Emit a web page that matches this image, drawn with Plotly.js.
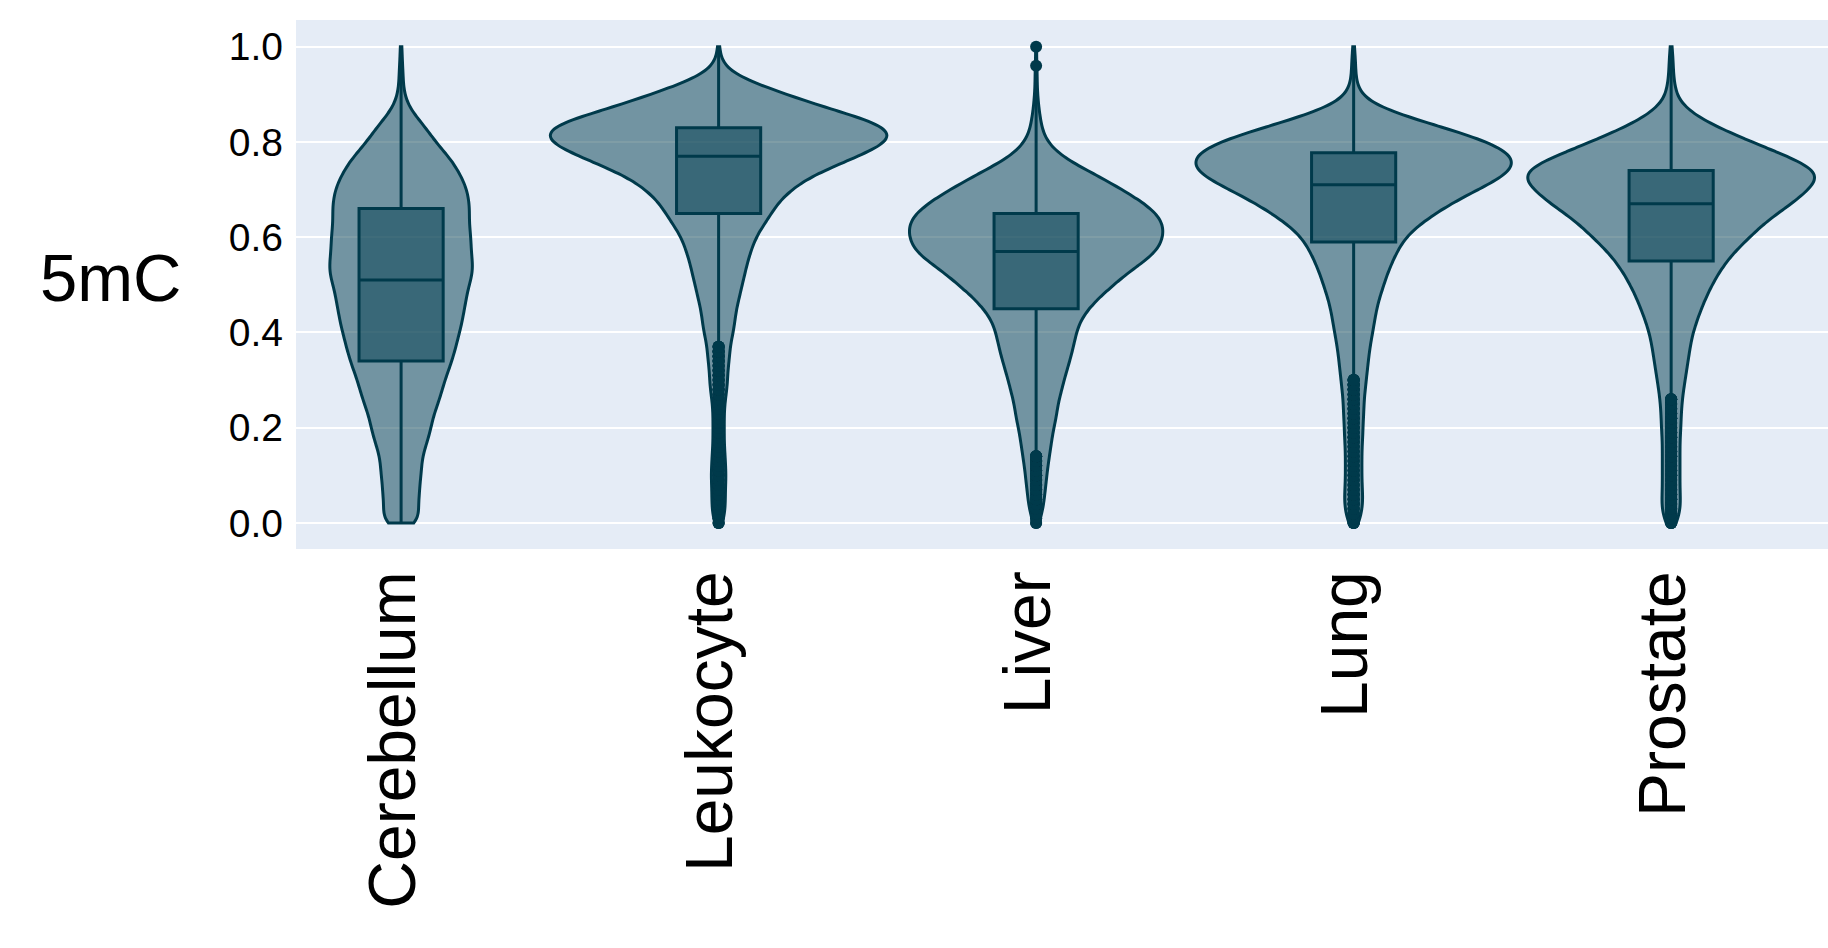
<!DOCTYPE html>
<html>
<head>
<meta charset="utf-8">
<script src="https://cdn.plot.ly/plotly-3.0.1.min.js"></script>
<style>
  html, body { margin: 0; padding: 0; background: #fff; }
  #chart { width: 1828px; height: 948px; }
</style>
</head>
<body>
<div id="chart"></div>
<script>
'use strict'

// 5mC level bins and how many CpG sites fall in each bin, per tissue
const bins = [0.00, 0.01, 0.02, 0.03, 0.04, 0.05, 0.06, 0.07, 0.08, 0.09,
              0.10, 0.11, 0.12, 0.13, 0.14, 0.15, 0.16, 0.17, 0.18, 0.19,
              0.20, 0.21, 0.22, 0.23, 0.24, 0.25, 0.26, 0.27, 0.28, 0.29,
              0.30, 0.31, 0.32, 0.33, 0.34, 0.35, 0.36, 0.37, 0.38, 0.39,
              0.40, 0.41, 0.42, 0.43, 0.44, 0.45, 0.46, 0.47, 0.48, 0.49,
              0.50, 0.51, 0.52, 0.53, 0.54, 0.55, 0.56, 0.57, 0.58, 0.59,
              0.60, 0.61, 0.62, 0.63, 0.64, 0.65, 0.66, 0.67, 0.68, 0.69,
              0.70, 0.71, 0.72, 0.73, 0.74, 0.75, 0.76, 0.77, 0.78, 0.79,
              0.80, 0.81, 0.82, 0.83, 0.84, 0.85, 0.86, 0.87, 0.88, 0.89,
              0.90, 0.91, 0.92, 0.93, 0.94, 0.95, 0.96, 0.97, 0.98, 0.99,
              1.00];

const tissues = ['Cerebellum', 'Leukocyte', 'Liver', 'Lung', 'Prostate'];

const cerebellum = [13, 10, 8, 8, 8, 9, 9, 9, 9, 9,
                    10, 10, 10, 10, 10, 11, 12, 13, 13, 14,
                    15, 15, 15, 16, 17, 18, 19, 19, 20, 21,
                    21, 22, 23, 24, 25, 25, 26, 27, 27, 28,
                    28, 29, 30, 30, 30, 31, 31, 32, 32, 32,
                    33, 34, 35, 35, 35, 35, 34, 34, 34, 34,
                    34, 34, 33, 33, 33, 33, 34, 33, 33, 32,
                    33, 31, 30, 29, 28, 26, 25, 23, 21, 19,
                    16, 15, 14, 12, 10, 8, 6, 4, 3, 2,
                    2, 1, 1, 1, 1, 1, 1, 0, 1, 0,
                    1];
const leukocyte = [3, 2, 3, 3, 3, 3, 3, 3, 3, 3,
                   4, 3, 3, 3, 3, 3, 2, 3, 2, 3,
                   2, 3, 2, 3, 2, 3, 3, 3, 4, 4,
                   4, 4, 4, 4, 5, 5, 5, 5, 5, 6,
                   7, 7, 7, 7, 8, 8, 8, 9, 10, 10,
                   10, 11, 12, 12, 12, 13, 14, 14, 15, 16,
                   16, 18, 19, 21, 22, 24, 24, 26, 28, 30,
                   32, 35, 38, 42, 46, 52, 57, 62, 68, 72,
                   76, 78, 80, 76, 72, 64, 56, 49, 42, 36,
                   30, 24, 18, 12, 6, 4, 2, 1, 1, 0,
                   1];
const liver = [2, 2, 3, 3, 4, 4, 4, 4, 5, 5,
               5, 5, 6, 6, 6, 7, 7, 7, 8, 8,
               8, 9, 10, 10, 10, 10, 11, 12, 12, 13,
               13, 14, 15, 15, 16, 17, 17, 18, 18, 19,
               19, 20, 20, 22, 23, 25, 27, 29, 32, 34,
               37, 40, 42, 45, 48, 52, 56, 58, 59, 60,
               61, 61, 61, 61, 60, 58, 55, 52, 49, 45,
               41, 37, 33, 29, 25, 20, 15, 12, 9, 7,
               5, 4, 3, 3, 2, 2, 2, 1, 1, 1,
               1, 0, 1, 0, 1, 0, 1, 0, 0, 0,
               1];
const lung = [4, 3, 4, 4, 5, 4, 5, 4, 4, 4,
              4, 4, 4, 4, 4, 4, 4, 4, 5, 4,
              5, 4, 5, 5, 5, 5, 5, 5, 6, 6,
              6, 6, 7, 7, 7, 7, 8, 8, 8, 9,
              9, 10, 10, 10, 11, 11, 12, 12, 13, 14,
              15, 15, 16, 17, 18, 19, 20, 21, 22, 24,
              25, 27, 30, 33, 36, 40, 43, 47, 51, 56,
              60, 65, 70, 74, 78, 78, 79, 78, 76, 71,
              66, 59, 52, 44, 35, 28, 20, 14, 8, 5,
              3, 2, 2, 1, 1, 1, 1, 1, 1, 0,
              1];
const prostate = [4, 3, 4, 4, 5, 4, 4, 4, 4, 4,
                  4, 4, 4, 4, 4, 4, 4, 4, 4, 4,
                  5, 4, 5, 4, 5, 5, 5, 5, 6, 6,
                  6, 7, 7, 7, 8, 8, 8, 9, 9, 9,
                  10, 11, 11, 12, 13, 14, 14, 16, 16, 18,
                  18, 20, 21, 22, 24, 25, 27, 29, 31, 33,
                  36, 38, 40, 42, 45, 48, 52, 54, 58, 60,
                  62, 65, 67, 68, 68, 63, 58, 53, 47, 42,
                  36, 32, 26, 22, 16, 13, 9, 7, 4, 3,
                  2, 2, 2, 1, 1, 1, 1, 1, 1, 0,
                  1];

const yTicks = [0, 0.2, 0.4, 0.6, 0.8, 1.0];

const dark = '#003a4b';

// turn the binned counts into the sample list a violin trace wants
let xs = [];
let ys = [];
let counts = [cerebellum, leukocyte, liver, lung, prostate];
for (let t = 0; t < tissues.length; t++) {
    for (let i = 0; i < bins.length; i++) {
        for (let k = 0; k < counts[t][i]; k++) {
            xs.push(tissues[t]);
            ys.push(bins[i]);
        }
    }
}

let violin = {
    type: 'violin',
    x: xs,
    y: ys,
    width: 1.06,
    spanmode: 'hard',
    bandwidth: 0.02,
    points: 'outliers',
    jitter: 0,
    pointpos: 0,
    line: { color: dark, width: 3 },
    fillcolor: 'rgba(0,60,78,0.5)',
    box: {
        visible: true,
        width: 0.25,
        fillcolor: 'rgba(0,60,78,0.5)',
        line: { color: dark, width: 3 }
    },
    meanline: { visible: false },
    marker: { color: dark, size: 12, line: { width: 0 } },
    hoverinfo: 'skip'
}

const layout = {
    width: 1828,
    height: 948,
    margin: { l: 296, r: 0, t: 20, b: 399, autoexpand: false },
    paper_bgcolor: '#ffffff',
    plot_bgcolor: '#e5ecf6',
    showlegend: false,
    font: { family: 'Liberation Sans, Arial, sans-serif', color: '#000000' },
    xaxis: {
        type: 'category',
        categoryorder: 'array',
        categoryarray: tissues,
        range: [-0.331, 4.494],
        showgrid: false,
        zeroline: false,
        showline: false,
        ticks: '',
        tickangle: -90,
        tickfont: { size: 66 },
        ticklabelstandoff: 8,
        ticklabelshift: -8,
        automargin: false
    },
    yaxis: {
        range: [-0.0546, 1.056],
        tickvals: yTicks,
        tickformat: '.1f',
        showgrid: true,
        gridcolor: '#ffffff',
        gridwidth: 2,
        zeroline: false,
        showline: false,
        ticks: '',
        tickfont: { size: 39 },
        ticklabelstandoff: 12,
        automargin: false
    },
    annotations: [{
        text: '5mC',
        xref: 'paper',
        yref: 'paper',
        x: -0.1208,
        y: 0.5126,
        xanchor: 'center',
        yanchor: 'middle',
        showarrow: false,
        font: { size: 67, color: '#000000' }
    }]
}

Plotly.newPlot('chart', [violin], layout, { displayModeBar: false, staticPlot: true });
</script>
</body>
</html>
